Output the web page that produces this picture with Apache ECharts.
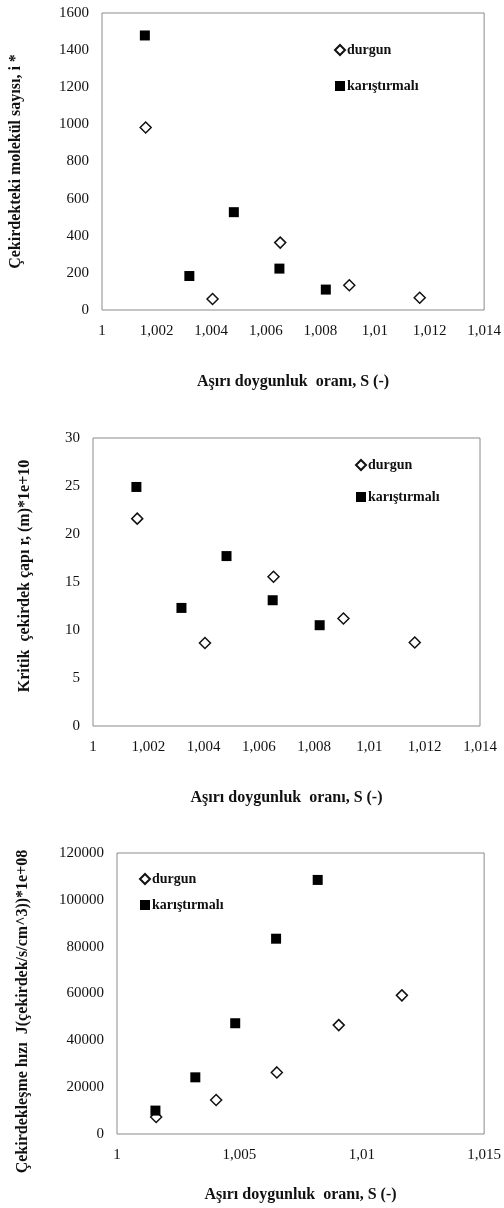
<!DOCTYPE html>
<html>
<head>
<meta charset="utf-8">
<script src="https://cdn.jsdelivr.net/npm/echarts@6/dist/echarts.min.js"></script>
<style>
  html, body { margin: 0; padding: 0; background: #fff; }
  #chart { width: 504px; height: 1208px; }
</style>
</head>
<body>
<div id="chart"></div>
<script>
// Supersaturation ratio S for each run
const sDurgun = [1.0016, 1.00405, 1.00653, 1.00906, 1.01164];
const sKaristirmali = [1.00157, 1.0032, 1.00483, 1.0065, 1.0082];

// Number of molecules in the nucleus, i*
const iDurgun = [983, 59, 363, 133, 66];
const iKaristirmali = [1479, 183, 527, 223, 110];

// Critical nucleus radius r (m) * 1e+10
const rDurgun = [21.6, 8.65, 15.55, 11.2, 8.7];
const rKaristirmali = [24.9, 12.3, 17.7, 13.1, 10.5];

// Nucleation rate J (nuclei/s/cm^3) * 1e+08
const jDurgun = [7300, 14500, 26300, 46500, 59200];
const jKaristirmali = [10000, 24200, 47300, 83400, 108500];

const seriesNames = ['durgun', 'karıştırmalı'];
const xTitle = 'Aşırı doygunluk  oranı, S (-)';
const yTitles = [
  'Çekirdekteki molekül sayısı, i *',
  'Kritik  çekirdek çapı r, (m)*1e+10',
  'Çekirdekleşme hızı  J(çekirdek/s/cm^3))*1e+08'
];

const serif = '"Liberation Serif", "DejaVu Serif", serif';

function zip(xs, ys) { return xs.map((x, k) => [x, ys[k]]); }
function commaFmt(v) {
  let s = (Math.round(v * 1000) / 1000).toFixed(3).replace(/0+$/, '').replace(/\.$/, '');
  return s.replace('.', ',');
}

const grids = [
  { left: 102, top: 13, width: 383, height: 297 },
  { left: 93, top: 438, width: 387, height: 288 },
  { left: 117, top: 853, width: 369, height: 281 }
];

const xAxes = [
  { min: 1, max: 1.014, interval: 0.002 },
  { min: 1, max: 1.014, interval: 0.002 },
  { min: 1, max: 1.015, interval: 0.005 }
];
const yAxes = [
  { min: 0, max: 1600, interval: 200 },
  { min: 0, max: 30, interval: 5 },
  { min: 0, max: 120000, interval: 20000 }
];
const xNameGaps = [64, 64, 53];
const yNameGaps = [78, 60, 86];
const yNamePads = [[0, 0, 0, 0], [0, 0, 0, 12], [0, 36, 0, 0]];

const dataSets = [
  [zip(sDurgun, iDurgun), zip(sKaristirmali, iKaristirmali)],
  [zip(sDurgun, rDurgun), zip(sKaristirmali, rKaristirmali)],
  [zip(sDurgun, jDurgun), zip(sKaristirmali, jKaristirmali)]
];

const legendPos = [
  { left: 334, top: 43, itemGap: 22 },
  { left: 355, top: 458, itemGap: 18 },
  { left: 139, top: 872, itemGap: 12 }
];

const titleStyle = { fontFamily: serif, fontWeight: 'bold', fontSize: 16, color: '#111' };

const option = {
  backgroundColor: '#fff',
  animation: false,
  grid: grids.map(g => Object.assign({ show: true, borderColor: '#8a8a8a', borderWidth: 1, backgroundColor: 'transparent' }, g)),
  xAxis: xAxes.map((a, k) => Object.assign({
    type: 'value',
    gridIndex: k,
    name: xTitle,
    nameLocation: 'middle',
    nameGap: xNameGaps[k],
    nameTextStyle: titleStyle,
    axisLine: { show: false },
    axisTick: { show: false },
    splitLine: { show: false },
    axisLabel: {
      margin: 14,
      fontFamily: serif,
      fontSize: 15,
      color: '#111',
      formatter: commaFmt,
      showMinLabel: true,
      showMaxLabel: true
    }
  }, a)),
  yAxis: yAxes.map((a, k) => Object.assign({
    type: 'value',
    gridIndex: k,
    name: yTitles[k],
    nameLocation: 'middle',
    nameGap: yNameGaps[k],
    nameRotate: 90,
    nameTextStyle: Object.assign({ padding: yNamePads[k] }, titleStyle),
    axisLine: { show: false },
    axisTick: { show: false },
    splitLine: { show: false },
    axisLabel: { margin: 13, fontFamily: serif, fontSize: 15, color: '#111', formatter: v => String(v) }
  }, a)),
  legend: legendPos.map((p, k) => ({
    left: p.left,
    top: p.top,
    padding: 0,
    orient: 'vertical',
    itemGap: p.itemGap,
    itemWidth: 10,
    itemHeight: 10,
    data: seriesNames.map(n => n + (k === 0 ? '' : '\u200b'.repeat(k))),
    textStyle: { fontFamily: serif, fontSize: 14, fontWeight: 'bold', color: '#111', padding: [0, 0, 0, -3] },
    selectedMode: false
  })),
  series: []
};

dataSets.forEach((pair, k) => {
  const suffix = k === 0 ? '' : '\u200b'.repeat(k);
  option.series.push({
    name: seriesNames[0] + suffix,
    type: 'scatter',
    xAxisIndex: k,
    yAxisIndex: k,
    symbol: 'diamond',
    symbolSize: 11,
    itemStyle: { color: '#fff', borderColor: '#111', borderWidth: 1.5, opacity: 1 },
    data: pair[0]
  });
  option.series.push({
    name: seriesNames[1] + suffix,
    type: 'scatter',
    xAxisIndex: k,
    yAxisIndex: k,
    symbol: 'rect',
    symbolSize: 10,
    itemStyle: { color: '#000', opacity: 1 },
    data: pair[1]
  });
});

const chart = echarts.init(document.getElementById('chart'), null, { renderer: 'canvas' });
chart.setOption(option);
</script>
</body>
</html>
